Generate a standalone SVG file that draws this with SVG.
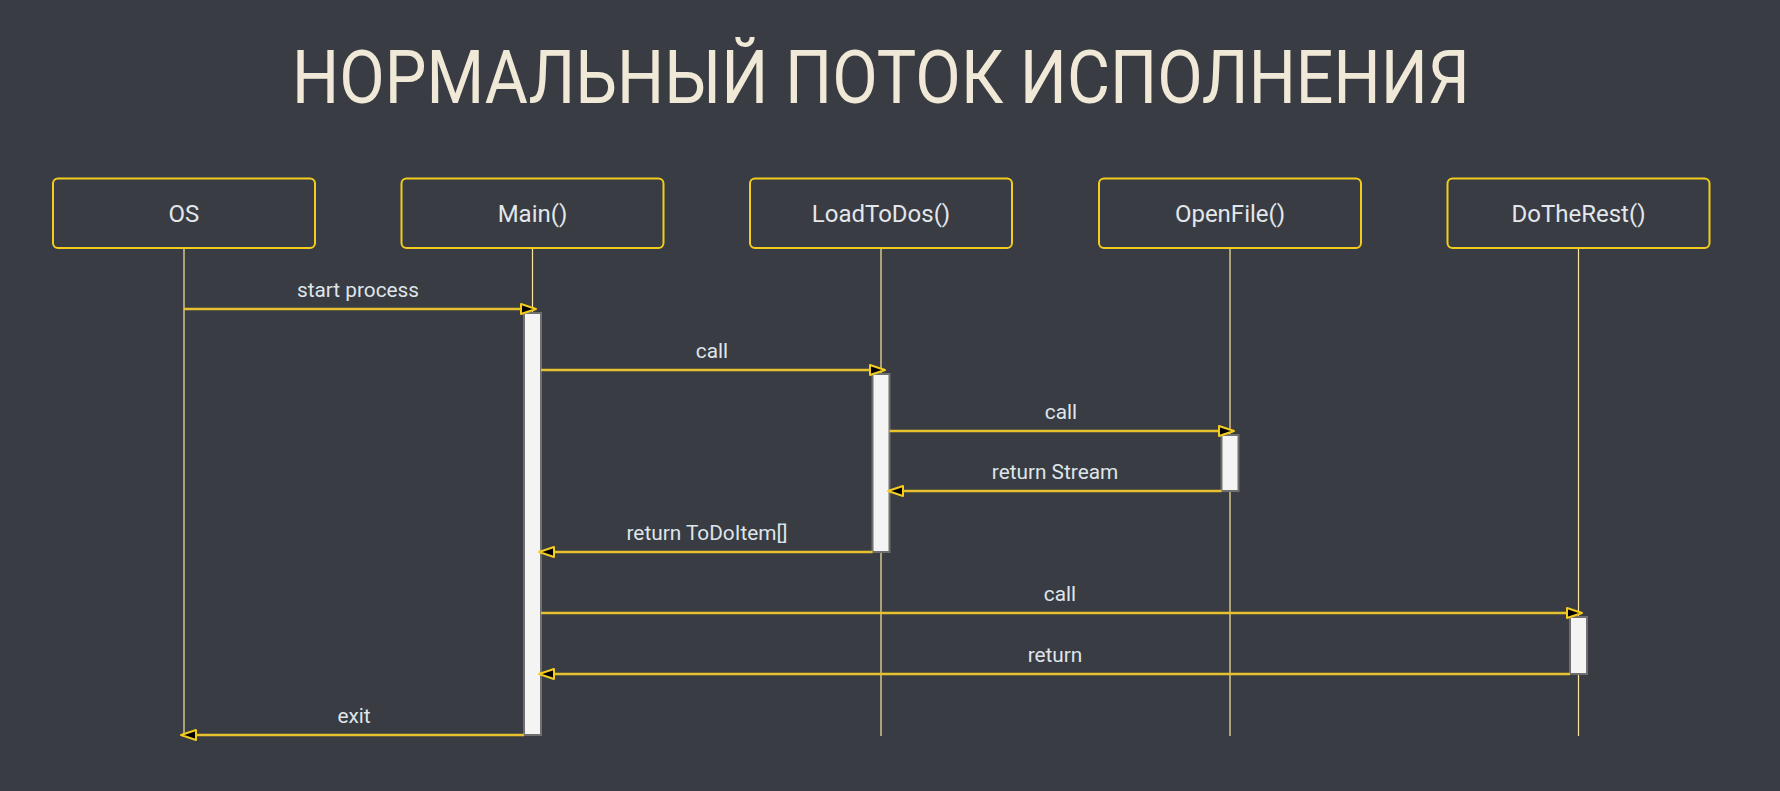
<svg xmlns="http://www.w3.org/2000/svg" width="1780" height="791" viewBox="0 0 1780 791">
<style>
.bg{fill:#393c42}
.title{font-family:Roboto,"Liberation Sans",sans-serif;font-weight:400;font-size:75px;fill:#f0e9d8}
.box{fill:#393c42;stroke:#f2cc1f;stroke-width:2}
.name{font-family:Roboto,"Liberation Sans",sans-serif;font-size:24px;fill:#e2e7eb;text-anchor:middle}
.life{stroke:#fbe7a0;stroke-width:1.2;fill:none}
.act{fill:#f4f4f4;stroke:#6f6f6f;stroke-width:2}
.msg{stroke:#e8c22e;stroke-width:2.6;fill:none}
.lbl{font-family:Roboto,"Liberation Sans",sans-serif;font-size:20.8px;fill:#dfe5ea;text-anchor:middle}
</style>
<defs>
<marker id="arr" markerUnits="userSpaceOnUse" markerWidth="18" markerHeight="14" refX="14" refY="5" orient="auto" overflow="visible">
<path d="M0,0 L15,5 L0,10 Z" fill="#000" stroke="#f2cc1f" stroke-width="2" stroke-linejoin="round"/>
</marker>
</defs>
<rect class="bg" x="0" y="0" width="1780" height="791"/>
<text class="title" x="292" y="103" textLength="1178" lengthAdjust="spacingAndGlyphs">НОРМАЛЬНЫЙ ПОТОК ИСПОЛНЕНИЯ</text>

<g id="node-os">
<line class="life" x1="184" y1="248" x2="184" y2="736"/>
<rect class="box" x="53" y="178.5" width="262" height="69.5" rx="5"/>
<text class="name" x="184" y="222">OS</text>
</g>
<g id="node-main">
<line class="life" x1="532.5" y1="248" x2="532.5" y2="736"/>
<rect class="box" x="401.5" y="178.5" width="262" height="69.5" rx="5"/>
<text class="name" x="532.5" y="222">Main()</text>
<rect class="act" x="524" y="313" width="17" height="422"/>
</g>
<g id="node-loadtodos">
<line class="life" x1="881" y1="248" x2="881" y2="736"/>
<rect class="box" x="750" y="178.5" width="262" height="69.5" rx="5"/>
<text class="name" x="881" y="222">LoadToDos()</text>
<rect class="act" x="872.5" y="374" width="17" height="178"/>
</g>
<g id="node-openfile">
<line class="life" x1="1230" y1="248" x2="1230" y2="736"/>
<rect class="box" x="1099" y="178.5" width="262" height="69.5" rx="5"/>
<text class="name" x="1230" y="222">OpenFile()</text>
<rect class="act" x="1221.5" y="435" width="17" height="56"/>
</g>
<g id="node-dotherest">
<line class="life" x1="1578.5" y1="248" x2="1578.5" y2="736"/>
<rect class="box" x="1447.5" y="178.5" width="262" height="69.5" rx="5"/>
<text class="name" x="1578.5" y="222">DoTheRest()</text>
<rect class="act" x="1570" y="617" width="17" height="57"/>
</g>

<g id="connectors">
<line class="msg" x1="184" y1="309" x2="535" y2="309" marker-end="url(#arr)"/>
<text class="lbl" x="358" y="297">start process</text>
<line class="msg" x1="541" y1="370" x2="884" y2="370" marker-end="url(#arr)"/>
<text class="lbl" x="712" y="358">call</text>
<line class="msg" x1="889.5" y1="431" x2="1233" y2="431" marker-end="url(#arr)"/>
<text class="lbl" x="1061" y="419">call</text>
<line class="msg" x1="1221.5" y1="491" x2="889" y2="491" marker-end="url(#arr)"/>
<text class="lbl" x="1055" y="479">return Stream</text>
<line class="msg" x1="872.5" y1="552" x2="540" y2="552" marker-end="url(#arr)"/>
<text class="lbl" x="707" y="540">return ToDoItem[]</text>
<line class="msg" x1="541" y1="613" x2="1581" y2="613" marker-end="url(#arr)"/>
<text class="lbl" x="1060" y="601">call</text>
<line class="msg" x1="1570" y1="674" x2="540" y2="674" marker-end="url(#arr)"/>
<text class="lbl" x="1055" y="662">return</text>
<line class="msg" x1="524" y1="735" x2="182" y2="735" marker-end="url(#arr)"/>
<text class="lbl" x="354" y="723">exit</text>
</g>
</svg>
